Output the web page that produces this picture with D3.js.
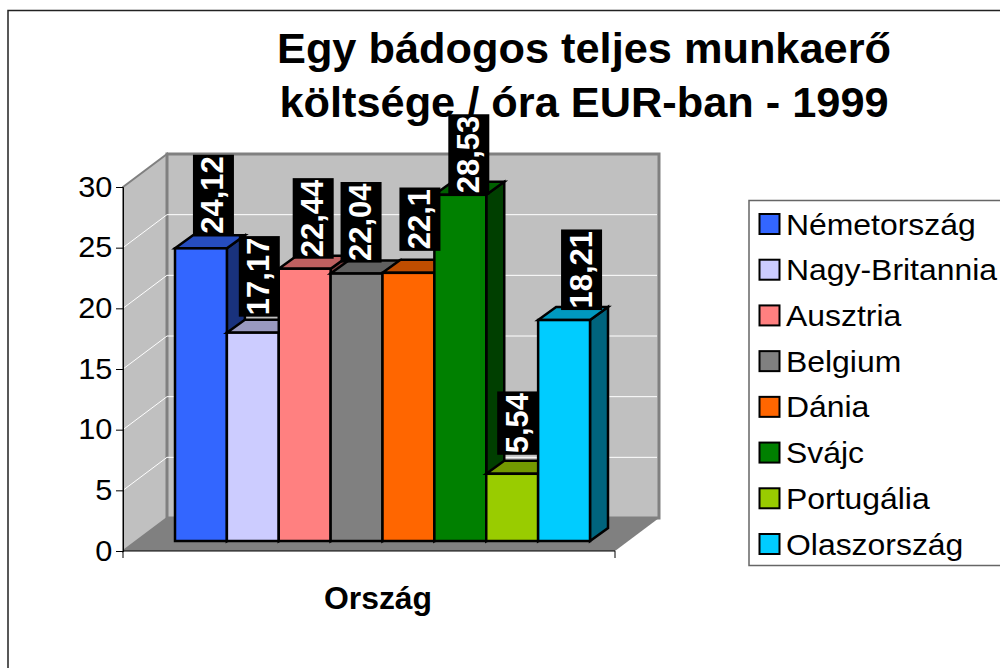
<!DOCTYPE html>
<html>
<head>
<meta charset="utf-8">
<script src="https://cdn.jsdelivr.net/npm/d3@7"></script>
<style>
  html, body { margin: 0; padding: 0; background: #fff; overflow: hidden; }
  svg { display: block; font-family: "Liberation Sans", Arial, sans-serif; }
</style>
</head>
<body>
<div id="chart"></div>
<script>
// Chart values
const countries = ["Németország", "Nagy-Britannia", "Ausztria", "Belgium", "Dánia", "Svájc", "Portugália", "Olaszország"];
const costs = [24.12, 17.17, 22.44, 22.04, 22.1, 28.53, 5.54, 18.21];
const costLabels = ["24,12", "17,17", "22,44", "22,04", "22,1", "28,53", "5,54", "18,21"];
const yTicks = [0, 5, 10, 15, 20, 25, 30];
const titleLines = ["Egy bádogos teljes munkaerő", "költsége / óra EUR-ban - 1999"];
const axisTitle = "Ország";
const barColors = ["#3366ff", "#ccccff", "#ff8080", "#808080", "#ff6600", "#008000", "#99cc00", "#00ccff"];

const width = 1000;
const height = 668;

const svg = d3.select("#chart").append("svg")
    .attr("width", width)
    .attr("height", height);

// Outer frame runs off the page on the right and bottom
svg.append("rect")
    .attr("x", 8).attr("y", 10.5)
    .attr("width", 1000).attr("height", 700)
    .attr("fill", "#fff").attr("stroke", "#222").attr("stroke-width", 1.5);

// 3D box: front plane, bar plane and back wall share one value scale
const unit = 364 / 30;
const yFront = d3.scaleLinear().domain([0, 30]).range([551, 551 - 30 * unit]);
const yBar = d3.scaleLinear().domain([0, 30]).range([541, 541 - 30 * unit]);
const yBack = d3.scaleLinear().domain([0, 30]).range([518, 518 - 30 * unit]);
const wallLeft = 123, wallDx = 44, wallRight = 615;

const x = d3.scaleBand().domain(countries).range([175, 590]);
const barDx = 18, barDy = 13;

// Walls and floor
svg.append("path")
    .attr("d", `M${wallLeft},${yFront(30)}L${wallLeft + wallDx},${yBack(30)}V${yBack(0)}L${wallLeft},${yFront(0)}Z`)
    .attr("fill", "#c0c0c0").attr("stroke", "#808080").attr("stroke-width", 2);
svg.append("rect")
    .attr("x", wallLeft + wallDx).attr("y", yBack(30))
    .attr("width", wallRight - wallLeft).attr("height", yBack(0) - yBack(30))
    .attr("fill", "#c0c0c0").attr("stroke", "#808080").attr("stroke-width", 3);
svg.append("path")
    .attr("d", `M${wallLeft},${yFront(0)}L${wallLeft + wallDx},${yBack(0)}H${wallRight + wallDx}L${wallRight},${yFront(0)}Z`)
    .attr("fill", "#808080");

// Gridlines on both walls
const gridValues = yTicks.filter(d => d > 0 && d < 30);
svg.append("g").selectAll("path")
    .data(gridValues)
    .join("path")
    .attr("d", d => `M${wallLeft},${yFront(d)}L${wallLeft + wallDx},${yBack(d)}H${wallRight + wallDx - 2}`)
    .attr("fill", "none").attr("stroke", "#fff").attr("stroke-width", 1);

// Axes
const yAxis = svg.append("g")
    .attr("transform", `translate(${wallLeft},0)`)
    .call(d3.axisLeft(yFront).tickValues(yTicks).tickSize(7).tickPadding(4).tickFormat(d3.format("d")));
// the reference text is slightly wider than its height, so stretch it a little
yAxis.selectAll("text")
    .attr("font-size", 29)
    .attr("font-family", "Liberation Sans")
    .attr("fill", "#000")
    .attr("x", -10)
    .attr("transform", "scale(1.06,1)");
yAxis.selectAll("line, path").attr("stroke", "#000");

svg.append("line")
    .attr("x1", wallLeft).attr("x2", wallRight)
    .attr("y1", yFront(0)).attr("y2", yFront(0))
    .attr("stroke", "#000");
svg.append("g").selectAll("line")
    .data([wallLeft, wallRight])
    .join("line")
    .attr("x1", d => d).attr("x2", d => d)
    .attr("y1", yFront(0)).attr("y2", yFront(0) + 7)
    .attr("stroke", "#000");

// Bars, left to right so each front covers the side of the one before
const bars = svg.append("g").selectAll("g")
    .data(countries)
    .join("g")
    .attr("stroke", "#000")
    .attr("stroke-width", 2.5)
    .attr("stroke-linejoin", "miter");

bars.append("path")
    .attr("d", (d, i) => {
        const x1 = x(d) + x.bandwidth(), top = yBar(costs[i]), base = yBar(0);
        return `M${x1},${top}L${x1 + barDx},${top - barDy}V${base - barDy}L${x1},${base}Z`;
    })
    .attr("fill", (d, i) => d3.rgb(barColors[i]).darker(2));
bars.append("path")
    .attr("d", (d, i) => {
        const x0 = x(d), x1 = x0 + x.bandwidth(), top = yBar(costs[i]);
        return `M${x0},${top}L${x0 + barDx},${top - barDy}H${x1 + barDx}L${x1},${top}Z`;
    })
    .attr("fill", (d, i) => {
        const c = d3.rgb(barColors[i]);
        return d3.rgb(c.r * 0.75, c.g * 0.75, c.b * 0.75);
    });
bars.append("rect")
    .attr("x", d => x(d))
    .attr("y", (d, i) => yBar(costs[i]))
    .attr("width", x.bandwidth())
    .attr("height", (d, i) => yBar(0) - yBar(costs[i]))
    .attr("fill", (d, i) => barColors[i]);

// Title
svg.append("g").selectAll("text")
    .data(titleLines)
    .join("text")
    .attr("transform", (d, i) => `translate(584,${63 + i * 53.5}) scale(1.02,1)`)
    .attr("text-anchor", "middle")
    .attr("font-size", 42.5)
    .attr("font-weight", "bold")
    .text(d => d);

// Data labels: white on black, turned 90 degrees, placed off the bar tops
const labelDx = [12.5, 6.5, 8.5, 4.5, 11.5, 8.5, 5.5, 17.5];
const labelDy = [13, 16, 10, 11, 22, 0, 19, 10];
const labelBoxW = 41;
const dataLabels = svg.append("g").selectAll("g")
    .data(countries)
    .join("g")
    .attr("transform", (d, i) => `translate(${x(d) + x.bandwidth() / 2 + labelDx[i]},${yBar(costs[i]) - labelDy[i]}) rotate(-90)`);
dataLabels.append("text")
    .attr("class", "data-label")
    .attr("x", 1.5)
    .attr("y", 10)
    .attr("font-size", 31)
    .attr("font-weight", "bold")
    .attr("fill", "#fff")
    .text((d, i) => costLabels[i]);
dataLabels.insert("rect", "text")
    .attr("x", 0)
    .attr("y", -labelBoxW / 2)
    .attr("height", labelBoxW)
    .attr("width", function() {
        return this.parentNode.querySelector("text").getComputedTextLength() + 3;
    })
    .attr("fill", "#000");

// Axis title
svg.append("text")
    .attr("transform", "translate(378,609) scale(1.03,1)")
    .attr("text-anchor", "middle")
    .attr("font-size", 31)
    .attr("font-weight", "bold")
    .text(axisTitle);

// Legend
const legendY = d3.scalePoint().domain(countries).range([224, 544]);
svg.append("rect")
    .attr("x", 749).attr("y", 200.5)
    .attr("width", 260).attr("height", 365)
    .attr("fill", "#fff").attr("stroke", "#666").attr("stroke-width", 1.5);
const legend = svg.append("g").selectAll("g")
    .data(countries)
    .join("g")
    .attr("transform", d => `translate(0,${legendY(d)})`);
legend.append("rect")
    .attr("x", 759.5).attr("y", -10)
    .attr("width", 20).attr("height", 20)
    .attr("fill", (d, i) => barColors[i])
    .attr("stroke", "#000").attr("stroke-width", 2);
legend.append("text")
    .attr("transform", "translate(786,10.5) scale(1.05,1)")
    .attr("font-size", 30.4)
    .text(d => d);
</script>
</body>
</html>
